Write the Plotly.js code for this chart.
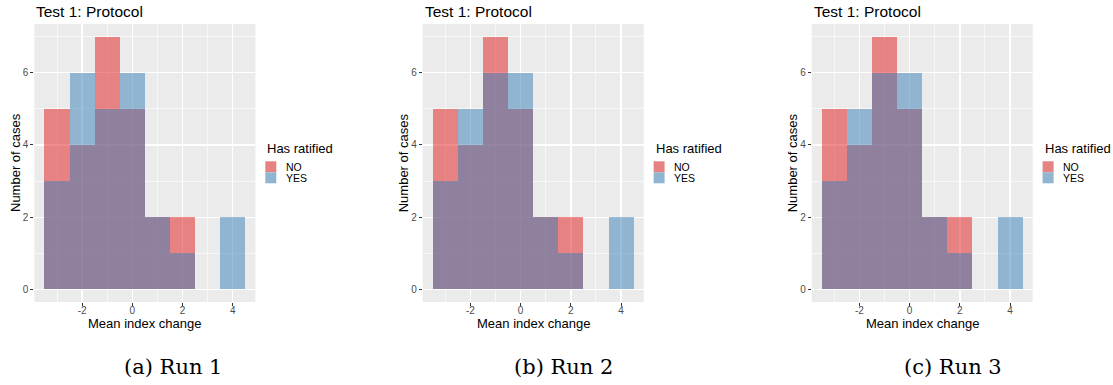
<!DOCTYPE html>
<html>
<head>
<meta charset="utf-8">
<script src="https://cdn.plot.ly/plotly-3.0.1.min.js"></script>
<style>
  html, body { margin: 0; padding: 0; background: #ffffff; }
  #chart { width: 1113px; height: 385px; }
</style>
</head>
<body>
<div id="chart"></div>
<script>
// ---- Data ----
const binCenters = [-3, -2, -1, 0, 1, 2, 3, 4];
const run1No  = [5, 4, 7, 5, 2, 2, 0, 0];
const run1Yes = [3, 6, 5, 6, 2, 1, 0, 2];
const run2No  = [5, 4, 7, 5, 2, 2, 0, 0];
const run2Yes = [3, 5, 6, 6, 2, 1, 0, 2];
const run3No  = [5, 4, 7, 5, 2, 2, 0, 0];
const run3Yes = [3, 5, 6, 6, 2, 1, 0, 2];
const groupNames = ["NO", "YES"];
const panelTitles = ["Test 1: Protocol", "Test 1: Protocol", "Test 1: Protocol"];
const captions = ["(a) Run 1", "(b) Run 2", "(c) Run 3"];
const xTickVals = [-2, 0, 2, 4];
const yTickVals = [0, 2, 4, 6];
const xTitle = "Mean index change";
const yTitle = "Number of cases";
const legendTitle = "Has ratified";

const runs = [[run1No, run1Yes], [run2No, run2Yes], [run3No, run3Yes]];

// ---- Styling ----
const W = 1113, H = 385;
const colNo = "rgba(228,26,28,0.5)";
const colYes = "rgba(55,126,184,0.5)";
const keyCols = ["#E78282", "#91B4D1"];
const panelLeft = [34.4, 422.7, 811.7];
const panelW = 221;
const panelTop = 24, panelBottom = 302;
const captionX = [172.5, 563.5, 952.5];
const font = "Liberation Sans, Arial, sans-serif";
const px = v => v / W;
const py = v => (H - v) / H;

const traces = [];
runs.forEach((r, i) => {
  const sfx = i === 0 ? "" : String(i + 1);
  [colNo, colYes].forEach((c, j) => {
    traces.push({
      type: "bar",
      x: binCenters,
      y: r[j],
      width: 1,
      name: groupNames[j],
      xaxis: "x" + sfx,
      yaxis: "y" + sfx,
      showlegend: false,
      marker: { color: c, line: { width: 0 } },
      hoverinfo: "x+y+name"
    });
  });
});

const layout = {
  width: W, height: H,
  margin: { l: 0, r: 0, t: 0, b: 0 },
  paper_bgcolor: "#ffffff",
  plot_bgcolor: "#EBEBEB",
  barmode: "overlay",
  bargap: 0,
  font: { family: font, color: "#000000" },
  annotations: [],
  shapes: [],
  showlegend: false
};

for (let i = 0; i < 3; i++) {
  const sfx = i === 0 ? "" : String(i + 1);
  const L = panelLeft[i];
  layout["xaxis" + sfx] = {
    domain: [px(L), px(L + panelW)],
    anchor: "y" + sfx,
    range: [-3.9, 4.9],
    tickmode: "array",
    tickvals: xTickVals,
    ticktext: xTickVals.map(String),
    ticks: "outside", ticklen: 3, tickwidth: 1, tickcolor: "#333333",
    ticklabelstandoff: -4,
    tickfont: { family: font, size: 10, color: "#4D4D4D" },
    showgrid: true, gridcolor: "#FFFFFF", gridwidth: 1.3,
    minor: { tickmode: "array", tickvals: [-3, -1, 1, 3], showgrid: true, gridcolor: "#FFFFFF", gridwidth: 0.6, ticks: "" },
    zeroline: false, showline: false, fixedrange: true,
    automargin: false
  };
  layout["yaxis" + sfx] = {
    domain: [py(panelBottom), py(panelTop)],
    anchor: "x" + sfx,
    range: [-0.35, 7.35],
    tickmode: "array",
    tickvals: yTickVals,
    ticktext: yTickVals.map(String),
    ticks: "outside", ticklen: 3, tickwidth: 1, tickcolor: "#333333",
    tickfont: { family: font, size: 10, color: "#4D4D4D" },
    showgrid: true, gridcolor: "#FFFFFF", gridwidth: 1.3,
    minor: { tickmode: "array", tickvals: [1, 3, 5, 7], showgrid: true, gridcolor: "#FFFFFF", gridwidth: 0.6, ticks: "" },
    zeroline: false, showline: false, fixedrange: true,
    automargin: false
  };

  // Axis titles
  layout.annotations.push({
    text: xTitle, xref: "paper", yref: "paper",
    x: px(L + panelW / 2), xanchor: "center",
    y: py(323), yanchor: "middle", showarrow: false,
    font: { family: font, size: 13, color: "#000000" }
  });
  layout.annotations.push({
    text: yTitle, xref: "paper", yref: "paper", textangle: -90,
    x: px(L - 19.4), xanchor: "center",
    y: py((panelTop + panelBottom) / 2), yanchor: "middle", showarrow: false,
    font: { family: font, size: 13, color: "#000000" }
  });

  // Panel title
  layout.annotations.push({
    text: panelTitles[i], xref: "paper", yref: "paper",
    x: px(L), xanchor: "left",
    y: py(11), yanchor: "middle", showarrow: false,
    font: { family: font, size: 15.5, color: "#000000" }
  });

  // Legend (drawn like ggplot: compact keys)
  const lx = L + 230.9;
  layout.annotations.push({
    text: legendTitle, xref: "paper", yref: "paper",
    x: px(lx), xanchor: "left",
    y: py(148.7), yanchor: "middle", showarrow: false,
    font: { family: font, size: 13, color: "#000000" }
  });
  groupNames.forEach((g, j) => {
    const top = 161.3 + j * 11;
    layout.shapes.push({
      type: "rect", xref: "paper", yref: "paper",
      x0: px(lx), x1: px(lx + 11), y0: py(top + 11), y1: py(top),
      fillcolor: keyCols[j], line: { width: 0 }
    });
    layout.annotations.push({
      text: g, xref: "paper", yref: "paper",
      x: px(lx + 18.5), xanchor: "left",
      y: py(top + 5.5), yanchor: "middle", showarrow: false,
      font: { family: font, size: 10.5, color: "#000000" }
    });
  });

  // Sub-figure caption
  layout.annotations.push({
    text: captions[i], xref: "paper", yref: "paper",
    x: px(captionX[i]), xanchor: "center",
    y: py(366.5), yanchor: "middle", showarrow: false,
    font: { family: "DejaVu Serif, Liberation Serif, serif", size: 21, color: "#000000" }
  });
}

Plotly.newPlot("chart", traces, layout, { displayModeBar: false, staticPlot: true });
</script>
</body>
</html>
